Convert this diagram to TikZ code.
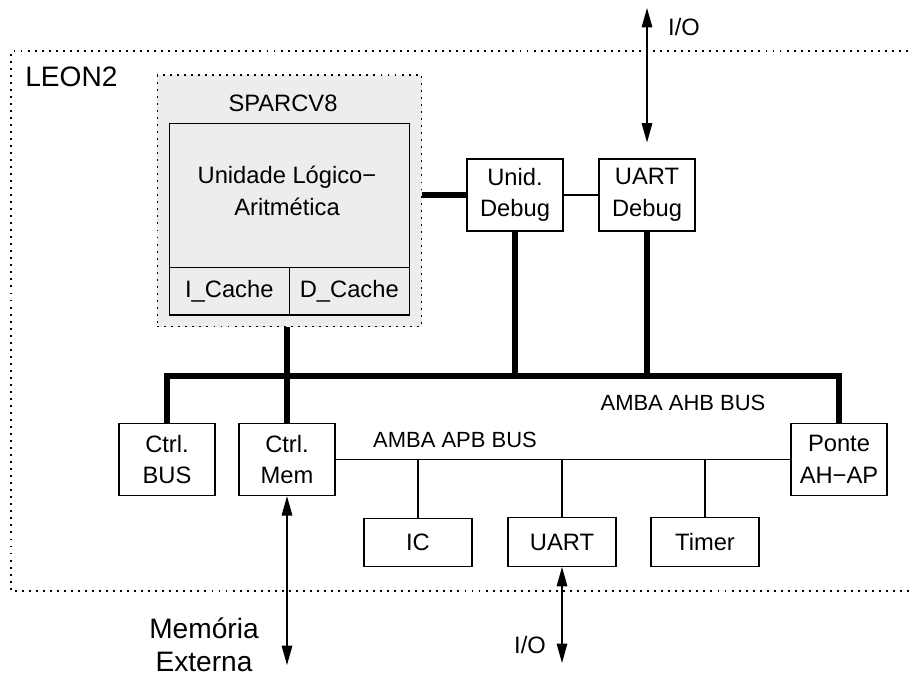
\documentclass[tikz,border=0pt]{standalone}
\usepackage{fontspec}
\setmainfont{Liberation Sans}
\usetikzlibrary{arrows.meta,positioning}

\begin{document}
\begin{tikzpicture}[
    x=0.02cm, y=-0.02cm,
    box/.style={draw, line width=0.8pt, align=center, inner sep=0pt, minimum width=1.92cm, minimum height=1.44cm, font=\fontsize{13.5}{18}\selectfont},
    periph/.style={box, minimum width=2.16cm, minimum height=0.97cm},
    txt/.style={inner sep=0pt, font=\fontsize{13.5}{18}\selectfont},
    bigtxt/.style={inner sep=0pt, align=center, font=\fontsize{16}{19}\selectfont},
    frame/.style={line width=0.8pt, dash pattern=on 1.1pt off 2.9pt},
    bus/.style={line width=3.6pt},
    wire/.style={line width=0.8pt},
    arrow/.style={{Triangle[length=11pt,width=6pt]}-{Triangle[length=11pt,width=6pt]}, line width=0.7pt}
]
\useasboundingbox (0,0) rectangle (911,678);

% LEON2 frame
\draw[frame] (915,51) -- (11,51) -- (11,591) -- (915,591);
\node[bigtxt, anchor=west] (leon) at (25,77) {LEON2};

% processor
\node[frame, draw, fill=black!7, minimum width=5.29cm, minimum height=5.03cm] (sparc) at (289.5,200.9) {};
\node[txt] (sparctxt) at (283,103) {SPARCV8};
\node[box, fill=black!7, minimum width=4.8cm, minimum height=2.88cm] (alu) at (289.3,195.3) {};
\node[txt, align=center] (alutxt) at (287,191) {Unidade Lógico−\\Aritmética};
\node[box, minimum width=2.4cm, minimum height=0.95cm] (icache) at (229.3,291.2) {I\_Cache};
\node[box, minimum width=2.4cm, minimum height=0.95cm] (dcache) at (349.3,291.2) {D\_Cache};

% debug
\node[box] (unid) at (515,195) {Unid.\\Debug};
\node[box] (uartdbg) at (647,195) {UART\\Debug};

% AHB side
\node[box] (ctrlbus) at (167,459.5) {Ctrl.\\BUS};
\node[box] (ctrlmem) at (287,459.5) {Ctrl.\\Mem};
\node[box] (ponte) at (839,459.5) {Ponte\\AH−AP};

% APB side
\node[periph] (ic) at (418,542.5) {IC};
\node[periph] (uart) at (562,542) {UART};
\node[periph] (timer) at (705,542) {Timer};

\node[txt, font=\fontsize{12.5}{15}\selectfont] (ahbtxt) at (683,403) {AMBA AHB BUS};
\node[txt, font=\fontsize{12.5}{15}\selectfont] (apbtxt) at (455,440) {AMBA APB BUS};

\coordinate (ahb) at (500,376);
\coordinate (iotop) at (647,8);
\coordinate (memext) at (287,665);
\coordinate (iobot) at (562,663);

\draw[bus] (unid.west -| sparc.east) -- (unid.west);
\draw[wire] (unid.east) -- (uartdbg.west);
\draw[bus] (ctrlbus.north) |- (ahb) -| (ponte.north);
\draw[bus] (unid.south) -- (unid.south |- ahb);
\draw[bus] (uartdbg.south) -- (uartdbg.south |- ahb);
\draw[bus] (ctrlmem.north |- sparc.south) -- (ctrlmem.north);

\draw[wire] (ctrlmem.east) -- (ponte.west);
\foreach \p in {ic,uart,timer}
  \draw[wire] (\p.north) -- (\p.north |- ctrlmem.east);

\draw[arrow, shorten >=9pt] (iotop) -- (iotop |- uartdbg.north);
\node[txt] (iotoptxt) at (684,27) {I/O};
\draw[arrow] (ctrlmem.south) -- (memext);
\node[bigtxt] (memtxt) at (204,645) {Memória\\Externa};
\draw[arrow] (uart.south) -- (iobot);
\node[txt] (iobottxt) at (530,645) {I/O};
\end{tikzpicture}
\end{document}
